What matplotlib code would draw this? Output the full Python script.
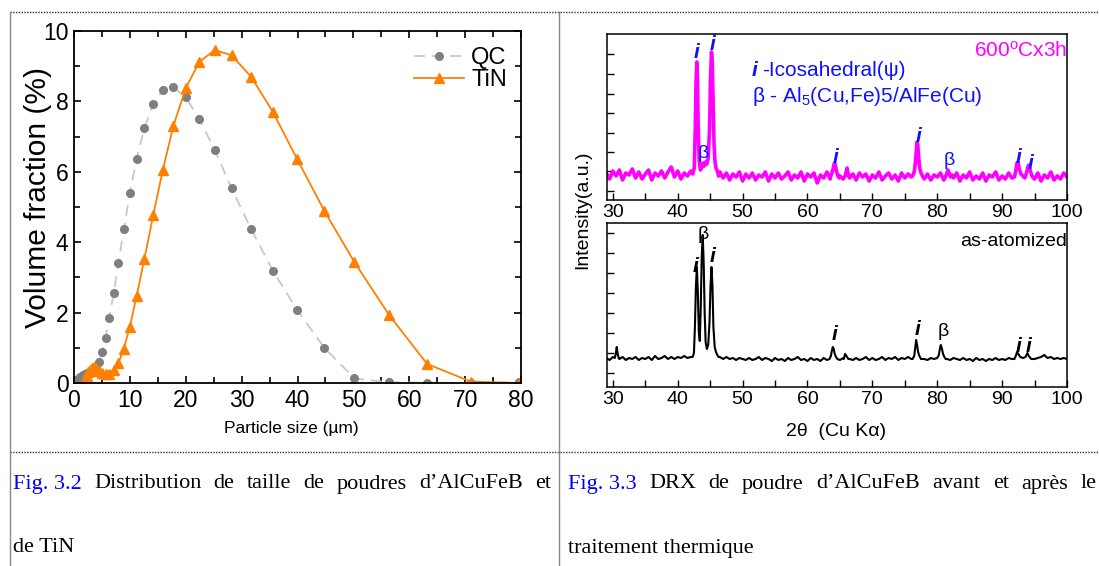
import numpy as np
import matplotlib.pyplot as plt
from matplotlib.ticker import MultipleLocator

plt.rcParams['font.family'] = ['Liberation Sans', 'DejaVu Sans']
plt.rcParams['mathtext.fontset'] = 'custom'
plt.rcParams['mathtext.rm'] = 'Liberation Sans'
plt.rcParams['mathtext.it'] = 'Liberation Sans:italic'

# ---- Fig 3.2 : particle size distribution ----
size_qc = [0.5, 0.56, 0.63, 0.71, 0.8, 0.89, 1.0, 1.12, 1.26, 1.41, 1.59, 1.78, 2.0, 2.24,
           2.52, 2.83, 3.17, 3.56, 3.99, 4.47, 5.02, 5.64, 6.32, 7.1, 7.96, 8.93, 10.0,
           11.2, 12.6, 14.2, 15.9, 17.8, 20.0, 22.4, 25.2, 28.2, 31.7, 35.6, 39.9, 44.8,
           50.2, 56.4, 63.2, 71.0, 79.6]
vol_qc = [0.02, 0.04, 0.06, 0.08, 0.10, 0.12, 0.14, 0.16, 0.18, 0.20, 0.22, 0.24, 0.26, 0.27,
          0.28, 0.29, 0.31, 0.35, 0.42, 0.60, 0.88, 1.28, 1.85, 2.56, 3.42, 4.38, 5.40,
          6.37, 7.25, 7.93, 8.32, 8.40, 8.12, 7.50, 6.62, 5.53, 4.37, 3.19, 2.08, 1.00,
          0.13, 0.02, 0.01, 0.0, 0.02]
size_tin = [1.78, 2.0, 2.24, 2.52, 2.83, 3.17, 3.56, 3.99, 4.47, 5.02, 5.64, 6.32, 7.1, 7.96,
            8.93, 10.0, 11.2, 12.6, 14.2, 15.9, 17.8, 20.0, 22.4, 25.2, 28.2, 31.7, 35.6,
            39.9, 44.8, 50.2, 56.4, 63.2, 71.0, 79.6]
vol_tin = [0.0, 0.10, 0.20, 0.30, 0.38, 0.42, 0.45, 0.42, 0.33, 0.27, 0.25, 0.25, 0.38, 0.57,
           0.98, 1.60, 2.47, 3.53, 4.78, 6.06, 7.31, 8.37, 9.12, 9.46, 9.31, 8.70, 7.70,
           6.37, 4.89, 3.43, 1.93, 0.54, 0.04, 0.0]

# ---- Fig 3.3 : XRD patterns (intensity in arbitrary units) ----
# background sampled every 0.5 deg from 29 to 100
bg_600 = [27, 21, 29, 24, 30, 20, 27, 25, 31, 22,
          28, 21, 26, 30, 20, 27, 24, 29, 22, 28,
          33, 23, 29, 21, 27, 24, 29, 27, 30, 30,
          30, 30, 30, 30, 30, 28, 22, 27, 20, 26,
          23, 28, 19, 26, 22, 27, 20, 25, 23, 28,
          19, 26, 22, 27, 21, 24, 28, 20, 25, 22,
          28, 19, 26, 23, 27, 17, 25, 22, 28, 21,
          30, 30, 24, 21, 30, 22, 26, 20, 27, 23,
          26, 19, 25, 22, 28, 20, 24, 27, 21, 25,
          19, 27, 22, 26, 23, 30, 30, 30, 21, 26,
          20, 25, 23, 27, 20, 30, 30, 22, 27, 19,
          25, 22, 28, 20, 24, 21, 27, 19, 25, 23,
          28, 20, 24, 21, 27, 22, 30, 30, 30, 30,
          30, 30, 21, 27, 19, 25, 22, 28, 20, 24,
          21, 27, 23]
peaks_600 = [
    ([42.3, 42.55, 42.7, 42.82, 42.95, 43.05, 43.15, 43.3, 43.5, 43.7, 43.9, 44.1, 44.3,
      44.5, 44.7, 44.9, 45.05, 45.2, 45.32, 45.45, 45.6, 45.75, 45.9, 46.1, 46.3],
     [26, 32, 70, 118, 138, 120, 75, 40, 30, 33, 37, 34, 38, 36, 42, 70, 120, 148, 140,
      100, 55, 38, 32, 29, 24]),
    ([63.6, 63.8, 63.95, 64.1, 64.2, 64.35, 64.5, 64.7, 64.9], [24, 28, 31, 36, 37, 33, 28, 24, 22]),
    ([65.8, 65.95, 66.1, 66.25, 66.4], [24, 28, 32, 27, 23]),
    ([76.2, 76.45, 76.65, 76.8, 76.9, 77.0, 77.15, 77.3, 77.5, 77.8],
     [24, 28, 38, 52, 58, 55, 42, 32, 27, 23]),
    ([81.2, 81.45, 81.65, 81.85, 82.05, 82.3], [22, 26, 30, 27, 23, 25]),
    ([91.9, 92.1, 92.3, 92.45, 92.65, 92.9, 93.2, 93.5, 93.8, 94.0, 94.15, 94.35, 94.6, 94.8],
     [23, 29, 37, 38, 31, 26, 24, 22, 28, 34, 35, 29, 24, 22]),
]

bg_atom = [29, 27, 30, 30, 28, 30, 27, 29, 28, 30,
           27, 29, 28, 30, 27, 31, 28, 29, 31, 28,
           30, 28, 30, 29, 31, 29, 30, 30, 30, 30,
           30, 30, 30, 30, 30, 30, 28, 30, 28, 29,
           27, 29, 28, 27, 29, 27, 28, 30, 27, 29,
           28, 26, 29, 27, 28, 26, 29, 27, 28, 30,
           27, 28, 26, 29, 27, 28, 26, 29, 27, 28,
           30, 30, 27, 29, 30, 28, 27, 29, 27, 28,
           30, 27, 29, 27, 28, 30, 27, 29, 28, 30,
           27, 29, 28, 30, 28, 30, 30, 30, 28, 27,
           29, 28, 30, 30, 30, 28, 27, 29, 28, 27,
           29, 27, 28, 26, 29, 27, 28, 26, 28, 27,
           29, 27, 28, 27, 29, 28, 30, 30, 30, 30,
           30, 30, 28, 29, 30, 32, 29, 30, 28, 29,
           28, 29, 28]
peaks_atom = [
    ([30.3, 30.45, 30.6, 30.75, 30.9], [29, 33, 40, 33, 29]),
    ([42.3, 42.5, 42.65, 42.8, 42.95, 43.1, 43.25, 43.4, 43.55, 43.7, 43.85, 44.0, 44.15,
      44.3, 44.5, 44.7, 44.9, 45.05, 45.2, 45.35, 45.5, 45.7, 45.9, 46.1, 46.3],
     [30, 34, 60, 100, 120, 95, 55, 46, 80, 130, 152, 125, 75, 45, 38, 42, 65, 100, 120,
      102, 60, 40, 35, 32, 30]),
    ([63.4, 63.6, 63.75, 63.9, 64.05, 64.2, 64.4, 64.6], [28, 31, 36, 40, 38, 33, 30, 28]),
    ([65.6, 65.8, 66.0, 66.3], [28, 33, 31, 28]),
    ([76.2, 76.45, 76.6, 76.75, 76.9, 77.05, 77.25, 77.5], [28, 31, 39, 47, 42, 35, 31, 28]),
    ([80.0, 80.25, 80.4, 80.55, 80.7, 80.9, 81.1, 81.3], [29, 32, 38, 42, 39, 33, 30, 28]),
    ([91.9, 92.1, 92.3, 92.5, 92.8, 93.2, 93.6, 93.9, 94.1, 94.5], [28, 31, 35, 33, 30, 29, 30, 34, 31, 28]),
]

# peak labels: (2theta, height, text)
labels_600 = [(42.9, 147, 'i'), (45.3, 155, 'i'), (43.9, 47, 'β'), (64.3, 43, 'i'),
              (77.1, 63, 'i'), (81.8, 40, 'β'), (92.6, 43, 'i'), (94.4, 37, 'i')]
labels_atom = [(42.8, 120, 'i'), (43.9, 152, 'β'), (45.4, 130, 'i'), (64.2, 52, 'i'),
               (77.0, 57, 'i'), (81.0, 55, 'β'), (92.5, 41, 'i'), (94.0, 41, 'i')]


def pattern(bg, peaks):
    x = list(29 + 0.5 * np.arange(len(bg)))
    y = list(bg)
    keep = [True] * len(x)
    for px, py in peaks:
        for k in range(len(x)):
            if px[0] <= x[k] <= px[-1]:
                keep[k] = False
    xs = [a for a, k in zip(x, keep) if k]
    ys = [b for b, k in zip(y, keep) if k]
    for px, py in peaks:
        xs += px
        ys += py
    order = np.argsort(xs)
    return np.array(xs)[order], np.array(ys)[order]


W, H = 1099, 566


def box(l, t, r, b):
    return [l / W, 1 - b / H, (r - l) / W, (b - t) / H]


fig = plt.figure(figsize=(W / 100, H / 100), dpi=100)

# table frame
line_kw = dict(transform=fig.transFigure, figure=fig)
fig.add_artist(plt.Line2D([10 / W, 1], [1 - 12 / H] * 2, color='#333333', lw=1, ls=(0, (1, 1)), **line_kw))
fig.add_artist(plt.Line2D([10 / W, 1], [1 - 452 / H] * 2, color='#333333', lw=1, ls=(0, (1, 1)), **line_kw))
fig.add_artist(plt.Line2D([10 / W] * 2, [1 - 12 / H, 0], color='#888888', lw=1, **line_kw))
fig.add_artist(plt.Line2D([559 / W] * 2, [1 - 12 / H, 0], color='#888888', lw=1, **line_kw))

# left chart
ax = fig.add_axes(box(74, 31, 521, 383))
ax.plot(size_qc, vol_qc, ls=(0, (6, 4)), color='#c8c8c8', lw=1.3, marker='o', ms=5.5,
        mfc='#7f7f7f', mec='#7f7f7f', label='QC')
ax.plot(size_tin, vol_tin, color='#ff8000', lw=1.3, marker='^', ms=7,
        mfc='#ff8000', mec='#ff8000', label='TiN')
ax.set_xlim(0, 80)
ax.set_ylim(0, 10)
ax.xaxis.set_major_locator(MultipleLocator(10))
ax.xaxis.set_minor_locator(MultipleLocator(5))
ax.yaxis.set_major_locator(MultipleLocator(2))
ax.yaxis.set_minor_locator(MultipleLocator(1))
ax.tick_params(which='both', direction='in', top=True, right=True, labelsize=16.5, width=1.2)
ax.tick_params(which='major', length=5, pad=4)
ax.tick_params(which='minor', length=4)
for s in ax.spines.values():
    s.set_linewidth(1.3)
ax.legend(loc='upper right', bbox_to_anchor=(1.0, 0.995), frameon=False, fontsize=17,
          handlelength=2.1, handletextpad=0.3, labelspacing=0.0, borderaxespad=0.2)
fig.text(38 / W, 1 - 198 / H, 'Volume fraction (%)', rotation=90, fontsize=21.5, ha='center', va='center')
fig.text(291 / W, 1 - 428 / H, 'Particle size (µm)', fontsize=12.5, ha='center', va='center')

# right charts
ax1 = fig.add_axes(box(607, 34, 1067, 200))
ax2 = fig.add_axes(box(607, 223, 1067, 387))
x6, y6 = pattern(bg_600, peaks_600)
xa, ya = pattern(bg_atom, peaks_atom)
ax1.plot(x6, y6, color='#ff00ff', lw=2.6)
ax2.plot(xa, ya, color='black', lw=1.5)
ax1.set_ylim(0, 166)
ax2.set_ylim(0, 164)
ax1.set_yticks([9, 29, 48, 67, 87, 106, 126, 146])
ax2.set_yticks([14, 34, 54, 74, 94, 114, 134, 154])
for a in (ax1, ax2):
    a.set_xlim(29.1, 100)
    a.xaxis.set_major_locator(MultipleLocator(10))
    a.xaxis.set_minor_locator(MultipleLocator(5))
    a.tick_params(which='both', direction='in', labelsize=14, width=1)
    a.tick_params(which='major', length=5, pad=3)
    a.tick_params(which='minor', length=5)
    a.tick_params(axis='y', labelleft=False)
    for s in a.spines.values():
        s.set_linewidth(1.1)

ic_kw = dict(ha='center', va='center', fontsize=15, fontweight='bold', style='italic')
for tx, ty, s in labels_600:
    if s == 'i':
        ax1.text(tx, ty, s, color='#1010ff', **ic_kw)
    else:
        ax1.text(tx, ty, s, color='#1010ff', ha='center', va='center', fontsize=14)
for tx, ty, s in labels_atom:
    if s == 'i':
        ax2.text(tx, ty, s, color='black', **ic_kw)
    else:
        ax2.text(tx, ty, s, color='black', ha='center', va='center', fontsize=14)

ax1.text(1.0, 0.9, r'600$^{\rm o}$Cx3h', transform=ax1.transAxes, ha='right', va='center',
         fontsize=15, color='#ff00ff')
fig.text(752 / W, 1 - 71 / H, 'i', color='#1010ff', fontsize=15, fontweight='bold', style='italic',
         ha='left', va='center')
fig.text(762 / W, 1 - 71 / H, '-Icosahedral(ψ)', color='#1010ff', fontsize=15, ha='left', va='center')
fig.text(752 / W, 1 - 96 / H, r'β - Al$_5$(Cu,Fe)5/AlFe(Cu)', color='#1010ff', fontsize=15,
         ha='left', va='center')
ax2.text(1.0, 0.89, 'as-atomized', transform=ax2.transAxes, ha='right', va='center', fontsize=14)
fig.text(583 / W, 1 - 210 / H, 'Intensity(a.u.)', rotation=90, fontsize=14, ha='center', va='center')
fig.text(836 / W, 1 - 432 / H, '2θ  (Cu Kα)', fontsize=14, ha='center', va='center')

# captions (justified first lines)
cap_kw = dict(family=['Liberation Serif', 'DejaVu Serif'], fontsize=16, va='center', ha='left')
r = fig.canvas.get_renderer()


def justified(x0, x1, y, words):
    texts = [fig.text(0, 1 - y / H, w, color=c, **cap_kw) for w, c in words]
    widths = [t.get_window_extent(renderer=r).width for t in texts]
    gap = (x1 - x0 - sum(widths)) / (len(words) - 1)
    x = x0
    for t, w in zip(texts, widths):
        t.set_x(x / W)
        x += w + gap


blue = '#0000ff'
justified(13, 551, 484, [('Fig. 3.2', blue), ('Distribution', 'k'), ('de', 'k'),
                         ('taille', 'k'), ('de', 'k'), ('poudres', 'k'),
                         ('d\u2019AlCuFeB', 'k'), ('et', 'k')])
fig.text(13 / W, 1 - 548 / H, 'de TiN', **cap_kw)
justified(568, 1097, 484, [('Fig. 3.3', blue), ('DRX', 'k'), ('de', 'k'),
                           ('poudre', 'k'), ('d\u2019AlCuFeB', 'k'), ('avant', 'k'),
                           ('et', 'k'), ('apr\u00e8s', 'k'), ('le', 'k')])
fig.text(568 / W, 1 - 548 / H, 'traitement thermique', **cap_kw)

fig.savefig('out.png', dpi=100)
